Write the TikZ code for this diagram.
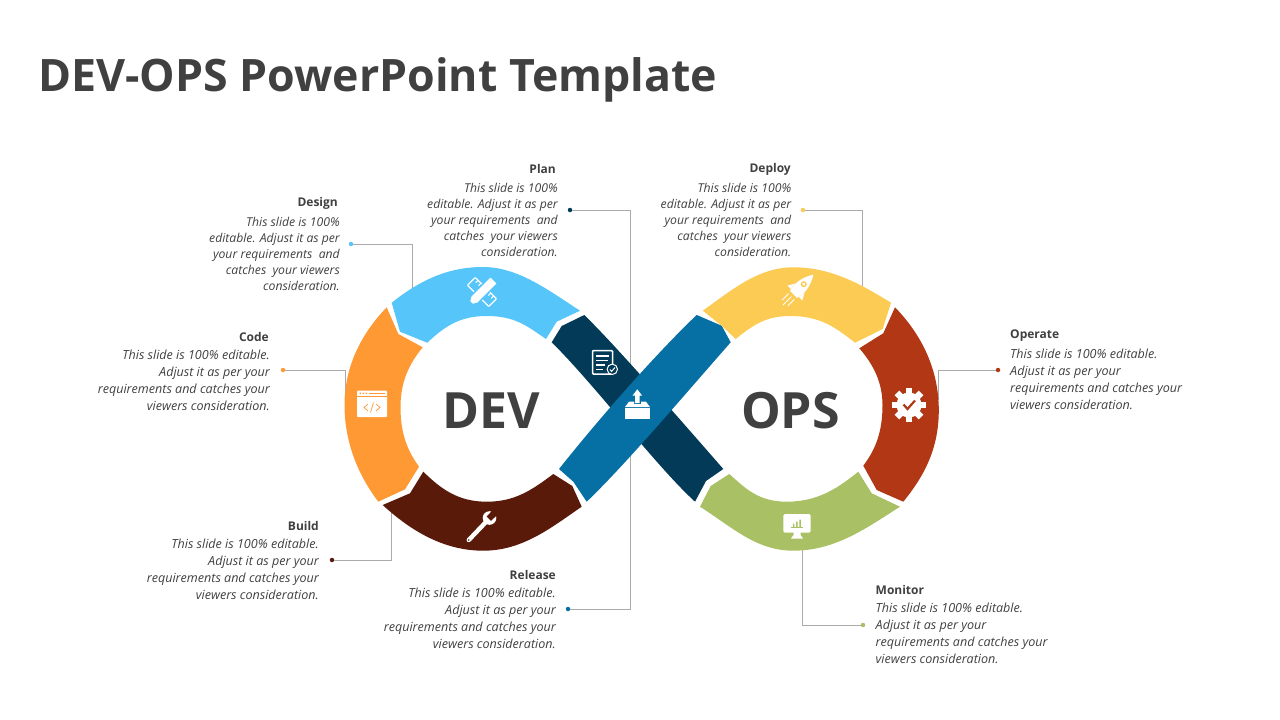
\documentclass[tikz,border=0pt]{standalone}
\usepackage{fontspec}
\setmainfont{Open Sans}
\definecolor{inktext}{HTML}{404040}
\definecolor{leadgrey}{HTML}{ABABAB}
\definecolor{designblue}{HTML}{55C5FA}
\definecolor{codeorange}{HTML}{FF9933}
\definecolor{buildbrown}{HTML}{5A1A0A}
\definecolor{plannavy}{HTML}{023A57}
\definecolor{releaseblue}{HTML}{0670A4}
\definecolor{deployyellow}{HTML}{FBCB54}
\definecolor{operatered}{HTML}{B23815}
\definecolor{monitorgreen}{HTML}{A9C064}
\tikzset{
  lobetext/.style={text=inktext, font=\bfseries\fontsize{50}{50}\selectfont, inner sep=0pt},
  headleft/.style={text=inktext, font=\bfseries\fontsize{12}{16}\selectfont, inner sep=0pt, anchor=east},
  headright/.style={text=inktext, font=\bfseries\fontsize{12}{16}\selectfont, inner sep=0pt, anchor=west},
  noteleft/.style={text=inktext, font=\itshape\fontsize{12.2}{16}\selectfont, inner sep=0pt, anchor=north east, align=right},
  notewide/.style={text=inktext, font=\itshape\fontsize{12.55}{17}\selectfont, inner sep=0pt, anchor=north east, align=right},
  noteright/.style={text=inktext, font=\itshape\fontsize{12.55}{17}\selectfont, inner sep=0pt, anchor=north west, align=left},
  leaddot/.style={circle, inner sep=0pt, minimum size=4.5pt, fill=#1},
  leader/.style={draw=leadgrey, line width=.8pt},
}
\begin{document}
\begin{tikzpicture}[x=1pt, y=-1pt]
  \useasboundingbox (0, 0) rectangle (1280, 720);

  \node [text=inktext, font=\bfseries\fontsize{44.7}{50}\selectfont, inner sep=0pt, anchor=west] (title) at (38, 79.5) {DEV-OPS PowerPoint Template};

  % leader lines, under the bands
  \node [leaddot=designblue] (designdot) at (351, 244) {};
  \node [leaddot=codeorange] (codedot) at (283, 370) {};
  \node [leaddot=buildbrown] (builddot) at (332, 560) {};
  \node [leaddot=plannavy] (plandot) at (570, 210) {};
  \node [leaddot=releaseblue] (releasedot) at (568, 609) {};
  \node [leaddot=deployyellow] (deploydot) at (803, 210) {};
  \node [leaddot=operatered] (operatedot) at (998, 370) {};
  \node [leaddot=monitorgreen] (monitordot) at (863, 625) {};
  \coordinate (designend) at (412.5, 290);
  \coordinate (codeend) at (345.5, 395);
  \coordinate (buildend) at (391.5, 510);
  \coordinate (planend) at (630.5, 380);
  \coordinate (releaseend) at (630.5, 440);
  \coordinate (deployend) at (862.5, 295);
  \coordinate (operateend) at (938.5, 400);
  \coordinate (monitorend) at (802.5, 540);
  \draw [leader] (designdot) -| (designend);
  \draw [leader] (codedot) -| (codeend);
  \draw [leader] (builddot) -| (buildend);
  \draw [leader] (plandot) -| (planend);
  \draw [leader] (releasedot) -| (releaseend);
  \draw [leader] (deploydot) -| (deployend);
  \draw [leader] (operatedot) -| (operateend);
  \draw [leader] (monitordot) -| (monitorend);

  % left lobe
  \fill [designblue] (391.7, 302.7) .. controls (419, 281) and (447, 267) .. (483, 267) .. controls (518, 267) and (548, 290) .. (580, 310.7)
    -- (556.7, 321.7) -- (546, 339) .. controls (527, 326) and (515, 316) .. (486.7, 316) .. controls (459, 316) and (444, 327) .. (427.3, 342.7)
    -- (400, 331.7) -- cycle;
  \fill [codeorange] (386.7, 307.3) .. controls (360, 335) and (344.5, 368) .. (344.5, 405) .. controls (344.5, 442) and (358, 475) .. (378.3, 501.7)
    -- (405, 489.3) -- (419, 466.7) .. controls (407, 450) and (400.5, 433) .. (400.5, 407) .. controls (400.5, 382) and (409, 364) .. (422.7, 347.3)
    -- (398.3, 334) -- cycle;
  \fill [buildbrown] (382.7, 505) .. controls (412, 532) and (445, 550.7) .. (483.3, 550.7) .. controls (523, 550.7) and (552, 527) .. (581.7, 506.7)
    -- (572.3, 486) -- (553.3, 474) .. controls (532, 490) and (515, 501.7) .. (486.7, 501.7) .. controls (458, 501.7) and (441, 489) .. (423.3, 471.7)
    -- (410, 493.3) -- cycle;

  % crossing bands
  \fill [plannavy] (584.3, 315) .. controls (615, 345) and (670, 408) .. (723.3, 469)
    -- (706, 481) -- (695, 501.7) .. controls (655, 465) and (595, 385) .. (551.7, 342.3)
    -- (561.7, 326) -- cycle;
  \fill [releaseblue] (696.7, 315) .. controls (665, 345) and (610, 405) .. (559, 469)
    -- (573.3, 481.7) -- (586.7, 501.7) .. controls (625, 465) and (680, 400) .. (730.7, 342.3)
    -- (721.7, 325.7) -- cycle;

  % right lobe
  \fill [deployyellow] (702.7, 310.7) .. controls (732, 290) and (758, 267.3) .. (793.3, 267.3) .. controls (832, 267.3) and (862, 285) .. (891, 302.7)
    -- (882.7, 329) -- (855, 342.7) .. controls (835, 327) and (820, 316) .. (790, 316) .. controls (765, 316) and (752, 326) .. (735.7, 339)
    -- (721.7, 325.7) -- cycle;
  \fill [operatered] (895, 307.3) .. controls (922, 335) and (938.8, 370) .. (938.8, 410) .. controls (938.8, 448) and (925, 475) .. (903.3, 501.7)
    -- (876.7, 490) -- (863.3, 465.7) .. controls (875, 450) and (882.5, 433) .. (882.5, 405) .. controls (882.5, 382) and (873, 364) .. (859.3, 348.3)
    -- (883.3, 333.3) -- cycle;
  \fill [monitorgreen] (700, 506.7) .. controls (732, 527) and (756, 550.7) .. (793.3, 550.7) .. controls (836, 550.7) and (868, 527) .. (900, 506.7)
    -- (871.7, 493.3) -- (858.3, 471.7) .. controls (838, 488) and (818, 501.7) .. (786.7, 501.7) .. controls (758, 501.7) and (745, 488) .. (729.3, 474)
    -- (710.7, 486) -- cycle;

  \node [lobetext] (dev) at (491.5, 410.5) {DEV};
  \node [lobetext] (ops) at (790.5, 410.5) {OPS};

  % design icon
  \begin{scope}[shift={(482, 292)}, rotate=-45]
    \draw [white, line width=1.3pt, rounded corners=.8pt] (-15, -5.5) rectangle (15, 5.5);
    \foreach \t in {-11, -7, 7, 11}
      \draw [white, line width=1pt] (\t, -5.5) -- (\t, -2);
  \end{scope}
  \begin{scope}[shift={(482, 292)}, rotate=45]
    \fill [white, draw=designblue, line width=1.4pt] (-11, -5) -- (17, -5) -- (17, 5) -- (-11, 5) -- (-19, 0) -- cycle;
    \fill [designblue] (-19, 0) -- (-15, -2.2) -- (-15, 2.2) -- cycle;
  \end{scope}

  % code icon
  \fill [white, rounded corners=1pt] (357, 390.5) rectangle (387, 417);
  \fill [codeorange] (359.5, 392.5) rectangle (361, 394) (362.5, 392.5) rectangle (364, 394) (365.5, 392.5) rectangle (367, 394);
  \draw [codeorange, line width=.7pt] (369, 393.2) -- (385, 393.2) (357, 396) -- (387, 396);
  \draw [codeorange, line width=.7pt] (368, 404) -- (364, 407.5) -- (368, 411) (373.5, 402.5) -- (370.5, 412.5) (376, 404) -- (380, 407.5) -- (376, 411);

  % plan icon
  \draw [white, line width=1.5pt, rounded corners=1pt] (592.5, 350.5) rectangle (612.5, 374);
  \draw [white, line width=1.3pt] (596, 356) -- (609, 356) (596, 360.5) -- (608, 360.5) (596, 365) -- (605, 365) (596, 369.5) -- (603, 369.5);
  \filldraw [fill=plannavy, draw=white, line width=1pt] (612.3, 369.3) circle (5.2);
  \draw [white, line width=1pt] (609.8, 369.5) -- (611.6, 371.4) -- (615, 367.5);

  % release icon
  \fill [white] (625, 408.3) rectangle (650, 419.3);
  \fill [white] (625, 407) -- (629, 401.7) -- (634, 401.7) -- (634, 404) -- (641, 404) -- (641, 401.7) -- (646, 401.7) -- (650, 407) -- cycle;
  \fill [white] (637.3, 389.3) -- (642, 395.5) -- (639.5, 395.5) -- (639.5, 403) -- (635.1, 403) -- (635.1, 395.5) -- (632.6, 395.5) -- cycle;

  % deploy icon
  \begin{scope}[shift={(802, 286)}, rotate=45]
    \fill [white] (-12, -5) .. controls (-5, -7.5) and (6, -6.5) .. (16, 0) .. controls (6, 6.5) and (-5, 7.5) .. (-12, 5) -- cycle;
    \fill [deployyellow] (2.5, 0) circle (3);
    \fill [white] (2.5, 0) circle (1.7);
    \fill [white] (-10, -6) -- (-10, -10.5) -- (-3, -6.5) -- cycle;
    \fill [white] (-10, 6) -- (-10, 10.5) -- (-3, 6.5) -- cycle;
    \draw [white, line width=.9pt] (-15, -4) -- (-24, -4) (-15, 0) -- (-27, 0) (-15, 4) -- (-24, 4);
  \end{scope}

  % operate icon
  \fill [white] (909, 405) circle (12.5);
  \foreach \a in {0, 45, ..., 315}
    \fill [white, rotate around={\a:(909, 405)}] (905.8, 388) rectangle (912.2, 396);
  \draw [operatered, line width=2.2pt] (903.5, 404.5) -- (907.5, 409) -- (915, 400.5);

  % monitor icon
  \fill [white, rounded corners=1.5pt] (783.3, 514) rectangle (810.7, 532.7);
  \fill [white] (793.5, 532) -- (800.5, 532) -- (800.5, 535) -- (803, 538.5) -- (791, 538.5) -- (793.5, 535) -- cycle;
  \draw [monitorgreen, line width=.8pt] (791, 527.5) -- (803, 527.5);
  \fill [monitorgreen] (793, 523.5) rectangle (794.4, 527) (796.2, 521.5) rectangle (797.6, 527) (799.4, 519.5) rectangle (800.8, 527);

  % build icon
  \draw [white, line width=4.4pt, line cap=round] (468.8, 540) -- (485, 523);
  \fill [white] (489.5, 518) circle (6.8);
  \begin{scope}[shift={(489.5, 518)}, rotate=45]
    \fill [buildbrown] (-1, -3) -- (8, -3.4) -- (8, 3.4) -- (-1, 3) -- cycle;
  \end{scope}
  \fill [buildbrown] (468.8, 540) circle (.9);

  % texts
  \node [headleft] (designhead) at (338, 203.5) {Design};
  \node [noteleft] (designtext) at (340, 217) {This slide is 100\%\\ editable. Adjust it as per\\ your requirements\ \ and\\ catches\ \ your viewers\\ consideration.};
  \node [headleft] (planhead) at (556, 169) {Plan};
  \node [noteleft] (plantext) at (558, 183) {This slide is 100\%\\ editable. Adjust it as per\\ your requirements\ \ and\\ catches\ \ your viewers\\ consideration.};
  \node [headleft] (deployhead) at (791, 169) {Deploy};
  \node [noteleft] (deploytext) at (791.5, 183) {This slide is 100\%\\ editable. Adjust it as per\\ your requirements\ \ and\\ catches\ \ your viewers\\ consideration.};
  \node [headleft] (codehead) at (269, 337) {Code};
  \node [notewide] (codetext) at (270, 349.5) {This slide is 100\% editable.\\ Adjust it as per your\\ requirements and catches your\\ viewers consideration.};
  \node [headleft] (buildhead) at (319, 526) {Build};
  \node [notewide] (buildtext) at (319, 538.5) {This slide is 100\% editable.\\ Adjust it as per your\\ requirements and catches your\\ viewers consideration.};
  \node [headleft] (releasehead) at (556, 575) {Release};
  \node [notewide] (releasetext) at (556, 587.5) {This slide is 100\% editable.\\ Adjust it as per your\\ requirements and catches your\\ viewers consideration.};
  \node [headright] (operatehead) at (1010, 336) {Operate};
  \node [noteright] (operatetext) at (1010, 348.5) {This slide is 100\% editable.\\ Adjust it as per your\\ requirements and catches your\\ viewers consideration.};
  \node [headright] (monitorhead) at (875.5, 590) {Monitor};
  \node [noteright] (monitortext) at (875.5, 602.5) {This slide is 100\% editable.\\ Adjust it as per your\\ requirements and catches your\\ viewers consideration.};
\end{tikzpicture}
\end{document}
